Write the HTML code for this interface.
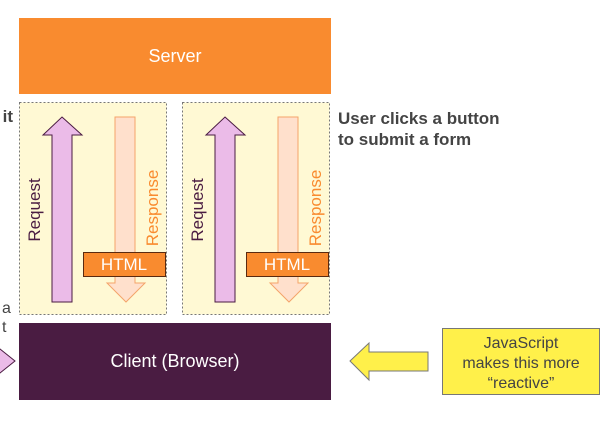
<!DOCTYPE html>
<html><head><style>
html,body{margin:0;padding:0;background:#fff;width:614px;height:430px;overflow:hidden}
svg{display:block}
text{font-family:"Liberation Sans",sans-serif}
</style></head><body>
<svg width="614" height="430" viewBox="0 0 614 430" xmlns="http://www.w3.org/2000/svg">
<rect x="19" y="18" width="312" height="76" fill="#F98B2F"/>
<text x="175" y="62" font-size="18" fill="#fff" text-anchor="middle">Server</text>

<g id="b">
<rect x="19.5" y="102.5" width="147" height="212" fill="#FFF9D4" stroke="#777" stroke-dasharray="2,2"/>
<polygon points="62,117 82,135 72,135 72,302 52,302 52,135 43,135" fill="#EBBBE8" stroke="#4A1C42" stroke-width="1"/>
<polygon points="115,117 135,117 135,283 145,283 126,302 107,283 115,283" fill="#FFE0CC" stroke="#F4A46A" stroke-width="1"/>
<text transform="translate(40,210) rotate(-90)" font-size="17" fill="#4A1C42" text-anchor="middle">Request</text>
<text transform="translate(158,208) rotate(-90)" font-size="17" fill="#F98B2F" text-anchor="middle">Response</text>
<rect x="83.5" y="252.5" width="82" height="24" fill="#F98B2F" stroke="#5a2a10"/>
<text x="124" y="270" font-size="17" fill="#fff" text-anchor="middle">HTML</text>
</g>
<use href="#b" x="163"/>

<rect x="19" y="323" width="312" height="77" fill="#4A1C42"/>
<text x="175" y="367" font-size="18" fill="#fff" text-anchor="middle">Client (Browser)</text>

<text x="0" y="122" font-size="17" font-weight="bold" fill="#444" text-anchor="end" transform="translate(13,0)">it</text>
<text x="2" y="313" font-size="16" fill="#444">a</text>
<text x="2" y="332" font-size="16" fill="#444">t</text>
<polygon points="-5,345 15,361 -5,377" fill="#EBBBE8" stroke="#4A1C42"/>

<text x="338" y="124" font-size="17" font-weight="bold" fill="#444">User clicks a button</text>
<text x="338" y="145" font-size="17" font-weight="bold" fill="#444">to submit a form</text>

<polygon points="350,361 369,343 369,352 428,352 428,371 369,371 369,380" fill="#FFF04A" stroke="#777"/>
<rect x="442.5" y="328.5" width="157" height="66" fill="#FFF04A" stroke="#777"/>
<text x="521" y="348" font-size="16" fill="#444" text-anchor="middle">JavaScript</text>
<text x="521" y="368" font-size="16" fill="#444" text-anchor="middle">makes this more</text>
<text x="521" y="388" font-size="16" fill="#444" text-anchor="middle">“reactive”</text>
</svg>
</body></html>
